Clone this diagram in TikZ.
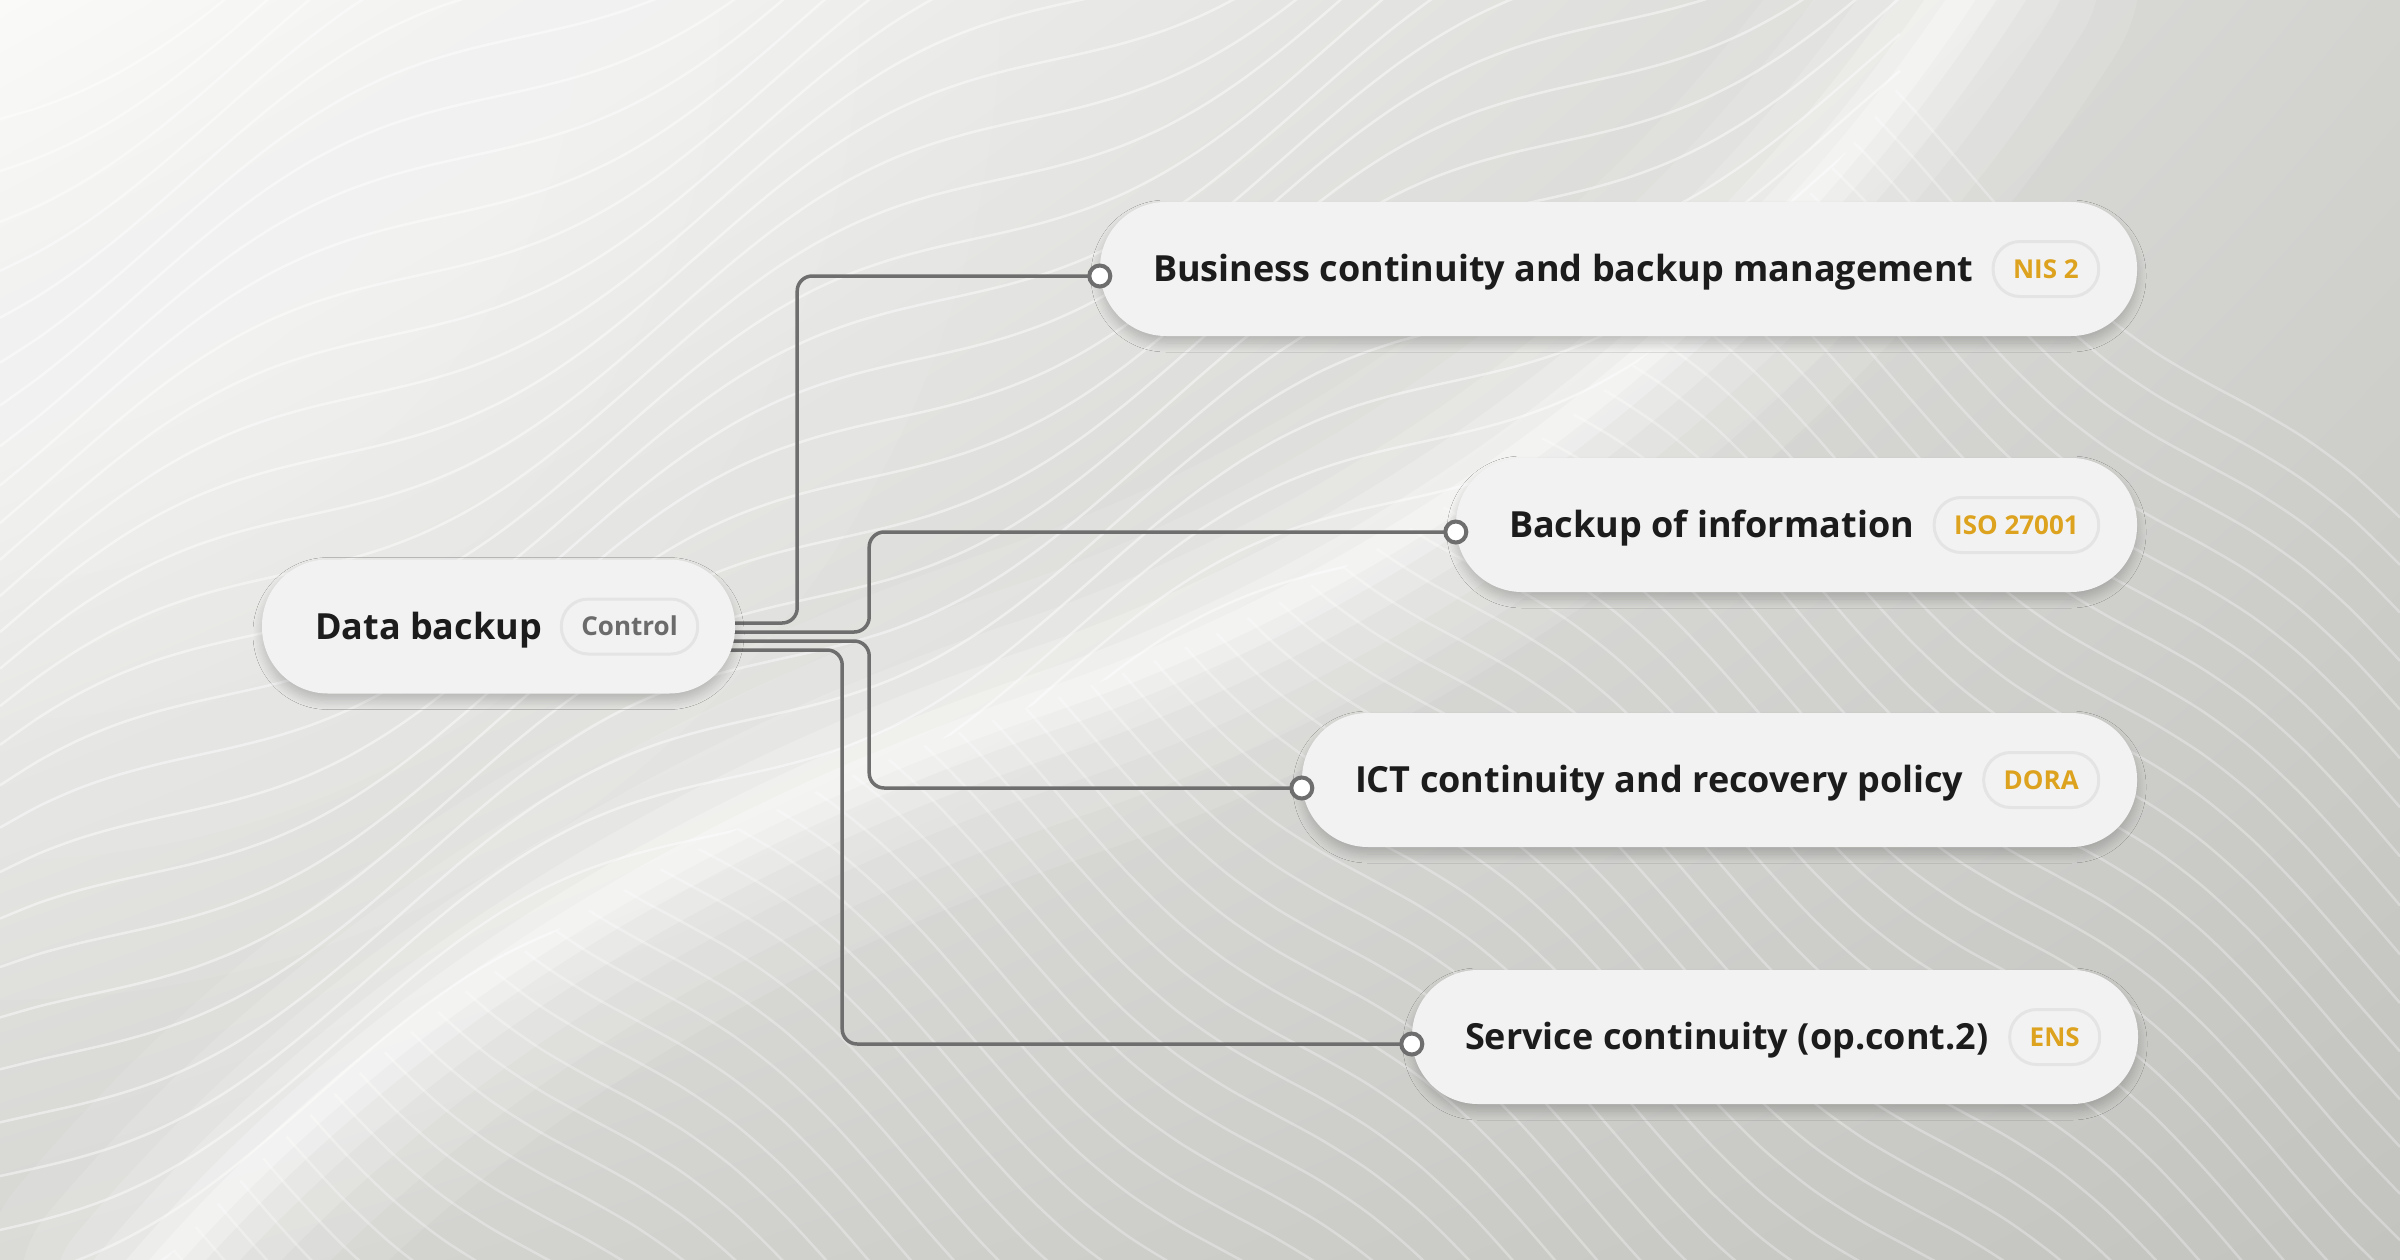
\documentclass[tikz,border=0pt]{standalone}
\usepackage{fontspec}
\setmainfont{Open Sans}
\usetikzlibrary{calc,shadows.blur,shadings}
\definecolor{nodefill}{HTML}{F2F2F2}
\definecolor{tagborder}{HTML}{E4E4E4}
\definecolor{gold}{HTML}{DDA21E}
\definecolor{ctrlgray}{HTML}{6B6B6B}
\definecolor{linegray}{HTML}{6E6E6E}
\definecolor{txt}{HTML}{1C1C1C}
\definecolor{bgTL}{HTML}{FAFAF9}
\definecolor{bgTR}{HTML}{D3D3D0}
\definecolor{bgBL}{HTML}{D6D6D3}
\definecolor{bgBR}{HTML}{C3C3C0}
\pgfdeclarelayer{back}
\pgfdeclarelayer{mid}
\pgfsetlayers{back,mid,main}
\begin{document}
\begin{tikzpicture}[x=1pt,y=-1pt,
  pill/.style={fill=nodefill, rounded corners=66pt, minimum height=134pt, inner sep=0pt,
    blur shadow={shadow xshift=0pt, shadow yshift=-7pt, shadow blur radius=9pt, shadow blur steps=10, shadow opacity=20}},
  lbl/.style={font=\fontsize{36pt}{40pt}\selectfont\bfseries, text=txt, inner sep=0pt},
  tag/.style={draw=tagborder, line width=3pt, fill=nodefill, rounded corners=27pt,
    minimum height=55pt, inner xsep=20pt, inner ysep=0pt,
    font=\fontsize{26pt}{30pt}\selectfont\bfseries, text height=18.6pt, text depth=0pt, text=gold},
  dot/.style={circle, draw=linegray, fill=white, line width=4pt, minimum size=21pt, inner sep=0pt},
  conn/.style={draw=linegray, line width=3.5pt, rounded corners=15pt}
]
\useasboundingbox (0,0) rectangle (2400,1260);

% ---------- nodes ----------
\node[pill, minimum width=473pt] (db) at (498.5,626.5) {};
\node[lbl, anchor=base west] (dbt) at ($(db.west)+(53,12.8)$) {Data backup};
\node[tag, text=ctrlgray, anchor=east] (dbg) at ($(db.east)+(-36,0)$) {Control};

\node[pill, minimum width=1037pt] (n1) at (1618.5,269) {};
\node[lbl, anchor=base west] (t1) at ($(n1.west)+(53,12.8)$) {Business continuity and backup management};
\node[tag, anchor=east] (g1) at ($(n1.east)+(-37,0)$) {NIS 2};

\node[pill, minimum width=681pt] (n2) at (1796.5,525) {};
\node[lbl, anchor=base west] (t2) at ($(n2.west)+(53,12.8)$) {Backup of information};
\node[tag, anchor=east] (g2) at ($(n2.east)+(-37,0)$) {ISO 27001};

\node[pill, minimum width=835pt] (n3) at (1719.5,780) {};
\node[lbl, anchor=base west] (t3) at ($(n3.west)+(53,12.8)$) {ICT continuity and recovery policy};
\node[tag, anchor=east] (g3) at ($(n3.east)+(-37,0)$) {DORA};

\node[pill, minimum width=726pt] (n4) at (1775,1037) {};
\node[lbl, anchor=base west] (t4) at ($(n4.west)+(53,12.8)$) {Service continuity (op.cont.2)};
\node[tag, anchor=east] (g4) at ($(n4.east)+(-37,0)$) {ENS};

\node[dot] (c1) at ($(n1.west)+(0,7)$) {};
\node[dot] (c2) at ($(n2.west)+(0,7)$) {};
\node[dot] (c3) at ($(n3.west)+(0,8)$) {};
\node[dot] (c4) at ($(n4.west)+(0,7)$) {};

\coordinate (s1) at ($(db.east)+(-8,-3.5)$);
\coordinate (s2) at ($(db.east)+(-8,5.5)$);
\coordinate (s3) at ($(db.east)+(-8,14.5)$);
\coordinate (s4) at ($(db.east)+(-8,23.5)$);

% ---------- connectors ----------
\begin{pgfonlayer}{mid}
\draw[conn] (s1) -- ++(70,0) |- (c1.center);
\draw[conn] (s2) -- ++(142,0) |- (c2.center);
\draw[conn] (s3) -- ++(142,0) |- (c3.center);
\draw[conn] (s4) -- ++(115,0) |- (c4.center);
\end{pgfonlayer}

% ---------- background ----------
\begin{pgfonlayer}{back}
\shade[shading=bilinear interpolation, upper left=bgTL, upper right=bgTR, lower left=bgBL, lower right=bgBR] (0,0) rectangle (2400,1260);
\foreach \r in {1000,860,720,580,440,300}
  \fill[white, opacity=0.07] (0,0) circle (\r pt);
% wavy texture above/left of the ridge
\begin{scope}
\clip (0,0) -- (1980,-30) .. controls (1750,330) and (1400,580) .. (1050,700)
  .. controls (750,800) and (400,980) .. (140,1290) -- (0,1290) -- cycle;
\foreach \b in {100,145,...,1700}
  \draw[white, opacity=0.45, line width=2.5pt]
    plot[domain=0:1900, samples=50, smooth] (\x, {\b - 0.55*\x + 38*sin(\x*0.5+\b*0.3)});
\end{scope}
% ribs below/right of the ridge
\begin{scope}
\clip (2400,-30) -- (1980,-30) .. controls (1750,330) and (1400,580) .. (1050,700)
  .. controls (750,800) and (400,980) .. (140,1290) -- (2400,1290) -- cycle;
\foreach \b in {-1500,-1455,...,1300}
  \draw[white, opacity=0.3, line width=2.5pt]
    plot[domain=0:2400, samples=50, smooth] (\x, {\b + 0.85*\x + 26*sin(\x*0.7+\b*0.2)});
\end{scope}
% bright ridge
\foreach \w/\o in {320/0.10, 240/0.12, 170/0.15, 110/0.2, 60/0.25, 25/0.3}
  \draw[white, opacity=\o, line width=\w pt, line cap=round]
    (140,1290) .. controls (400,980) and (750,800) .. (1050,700)
    .. controls (1400,580) and (1750,330) .. (1980,-30);
\end{pgfonlayer}
\end{tikzpicture}
\end{document}
